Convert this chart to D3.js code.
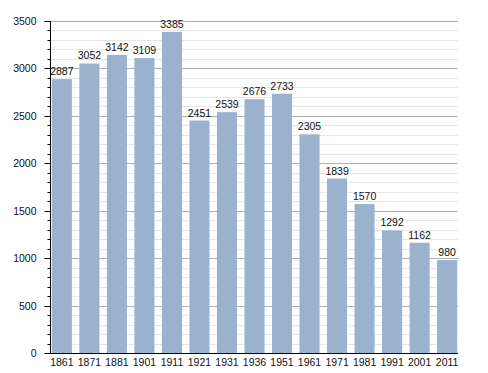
<!DOCTYPE html>
<html>
<head>
<meta charset="utf-8">
<script src="https://cdn.jsdelivr.net/npm/d3@7"></script>
<style>
  body { margin: 0; background: #fff; }
  text { font-family: "Liberation Sans", Arial, sans-serif; }
</style>
</head>
<body>
<div id="chart"></div>
<script>
const years = ["1861", "1871", "1881", "1901", "1911", "1921", "1931", "1936", "1951", "1961", "1971", "1981", "1991", "2001", "2011"];
const population = [2887, 3052, 3142, 3109, 3385, 2451, 2539, 2676, 2733, 2305, 1839, 1570, 1292, 1162, 980];
const majorTicks = [0, 500, 1000, 1500, 2000, 2500, 3000, 3500];

const width = 488, height = 373;
const plot = { left: 51, right: 458, top: 21, bottom: 353 };
const fontSize = 10.5;

const svg = d3.select("#chart")
  .append("svg")
  .attr("width", width)
  .attr("height", height);

const x = d3.scaleBand()
  .domain(years)
  .range([plot.left, plot.right])
  .paddingInner(0.27)
  .paddingOuter(0.03);

const y = d3.scaleLinear()
  .domain([0, 3500])
  .range([plot.bottom, plot.top]);

const minor = d3.range(0, 3501, 100);
const py = d => Math.round(y(d)) + 0.5;

// grille
svg.append("g")
  .selectAll("line")
  .data(minor.filter(d => d % 500 !== 0))
  .join("line")
  .attr("x1", plot.left).attr("x2", plot.right)
  .attr("y1", py).attr("y2", py)
  .attr("stroke", "#e6e6e6");

svg.append("g")
  .selectAll("line")
  .data(majorTicks.filter(d => d > 0))
  .join("line")
  .attr("x1", plot.left).attr("x2", plot.right)
  .attr("y1", py).attr("y2", py)
  .attr("stroke", "#b0b0b0");

const data = years.map((d, i) => ({ year: d, value: population[i] }));

// barres
svg.append("g")
  .selectAll("rect")
  .data(data)
  .join("rect")
  .attr("x", d => x(d.year))
  .attr("y", d => y(d.value))
  .attr("width", x.bandwidth())
  .attr("height", d => y(0) - y(d.value))
  .attr("fill", "#9ab2cd");

// étiquettes de valeur
svg.append("g")
  .selectAll("text")
  .data(data)
  .join("text")
  .attr("x", d => x(d.year) + x.bandwidth() / 2)
  .attr("y", d => y(d.value) - 4)
  .attr("text-anchor", "middle")
  .attr("font-size", fontSize)
  .attr("fill", "#111")
  .text(d => d.value);

// axe y
const yAxis = svg.append("g").attr("transform", `translate(${plot.left - 0.5},0)`);
yAxis.append("line")
  .attr("y1", plot.top).attr("y2", plot.bottom)
  .attr("stroke", "#000");
yAxis.selectAll(".minor")
  .data(minor)
  .join("line")
  .attr("class", "minor")
  .attr("x1", d => d % 500 === 0 ? -6 : -3).attr("x2", 0)
  .attr("y1", py).attr("y2", py)
  .attr("stroke", "#000");
yAxis.selectAll("text")
  .data(majorTicks)
  .join("text")
  .attr("x", -14)
  .attr("y", d => y(d) + 4)
  .attr("text-anchor", "end")
  .attr("font-size", fontSize)
  .attr("fill", "#111")
  .text(d => d);

// axe x
svg.append("line")
  .attr("x1", plot.left - 1).attr("x2", plot.right)
  .attr("y1", plot.bottom + 0.5).attr("y2", plot.bottom + 0.5)
  .attr("stroke", "#000");
svg.append("g")
  .selectAll("text")
  .data(years)
  .join("text")
  .attr("x", d => x(d) + x.bandwidth() / 2)
  .attr("y", plot.bottom + 13)
  .attr("text-anchor", "middle")
  .attr("font-size", fontSize)
  .attr("fill", "#111")
  .text(d => d);
</script>
</body>
</html>
